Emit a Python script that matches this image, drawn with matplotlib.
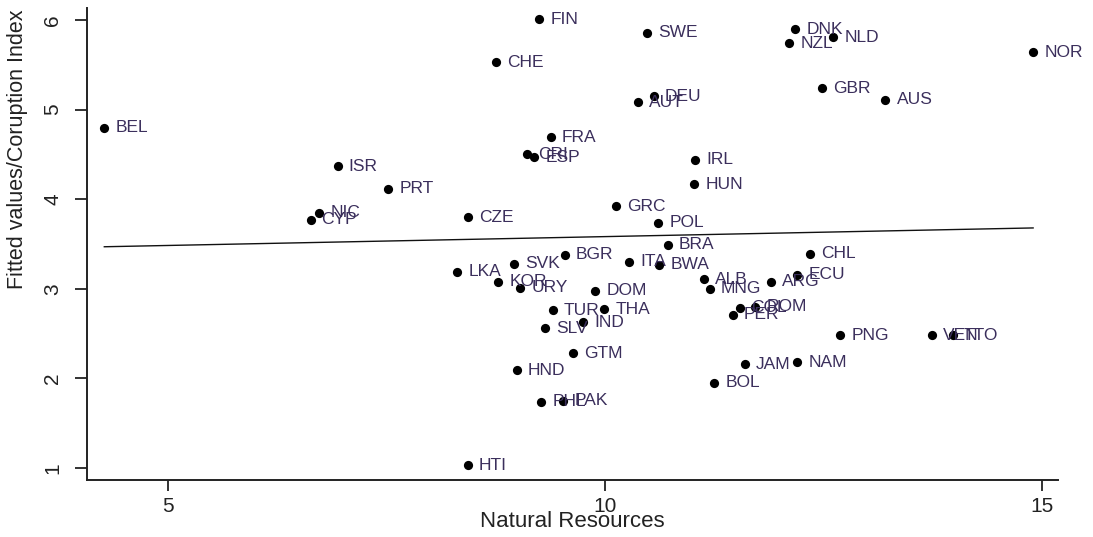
import matplotlib
matplotlib.use('Agg')
import matplotlib.pyplot as plt

plt.rcParams['font.family'] = ['Liberation Sans', 'DejaVu Sans']

# country codes, natural resources index, corruption index
codes = ['BEL', 'ISR', 'PRT', 'NIC', 'CYP', 'FIN', 'SWE', 'CHE', 'DEU', 'AUT',
         'FRA', 'CRI', 'ESP', 'IRL', 'HUN', 'GRC', 'CZE', 'POL', 'BRA', 'BGR',
         'SVK', 'ITA', 'BWA', 'LKA', 'DNK', 'NZL', 'NLD', 'NOR', 'GBR', 'AUS',
         'CHL', 'KOR', 'URY', 'DOM', 'TUR', 'THA', 'IND', 'SLV', 'GTM', 'HND',
         'PHL', 'PAK', 'ALB', 'MNG', 'ARG', 'ECU', 'COL', 'ROM', 'PER', 'PNG',
         'VEN', 'TTO', 'JAM', 'NAM', 'BOL', 'HTI']
nat_res = [4.27, 6.94, 7.52, 6.73, 6.63, 9.25, 10.48, 8.75, 10.56, 10.38,
           9.38, 9.11, 9.19, 11.03, 11.02, 10.13, 8.43, 10.61, 10.72, 9.54,
           8.96, 10.28, 10.62, 8.31, 12.18, 12.11, 12.61, 14.90, 12.48, 13.21,
           12.35, 8.78, 9.03, 9.89, 9.40, 9.99, 9.75, 9.31, 9.63, 8.99,
           9.27, 9.52, 11.13, 11.20, 11.90, 12.20, 11.55, 11.72, 11.46, 12.69,
           13.74, 13.98, 11.60, 12.20, 11.25, 8.43]
corruption = [4.80, 4.37, 4.12, 3.85, 3.77, 6.01, 5.86, 5.53, 5.15, 5.08,
              4.69, 4.50, 4.47, 4.44, 4.17, 3.92, 3.80, 3.74, 3.49, 3.38,
              3.28, 3.30, 3.27, 3.19, 5.90, 5.74, 5.81, 5.64, 5.24, 5.11,
              3.39, 3.08, 3.01, 2.98, 2.76, 2.77, 2.63, 2.56, 2.28, 2.09,
              1.74, 1.75, 3.11, 3.00, 3.08, 3.16, 2.79, 2.80, 2.71, 2.48,
              2.48, 2.48, 2.16, 2.18, 1.95, 1.03]

# fitted values at the ends of the data range
fit_x = [4.27, 14.90]
fit_y = [3.47, 3.68]

xticks = [5, 10, 15]
yticks = [1, 2, 3, 4, 5, 6]

fig = plt.figure(figsize=(10.93, 5.37), dpi=100)
ax = fig.add_axes([0.0796, 0.106, 0.888, 0.879])

ax.scatter(nat_res, corruption, s=44, c='black', zorder=3, linewidths=0)
for code, x, y in zip(codes, nat_res, corruption):
    ax.annotate(code, xy=(x, y), xytext=(8, 0), textcoords='offset points',
                va='center', ha='left', fontsize=12.5, color='#3b2f5c', zorder=4)

ax.plot(fit_x, fit_y, c='#111111', linewidth=1.0, zorder=2)

ax.set_xlim(4.072, 15.18)
ax.set_ylim(0.866, 6.134)
ax.set_xticks(xticks)
ax.set_yticks(yticks)
ax.tick_params(axis='x', length=8, width=1.3, pad=4, labelsize=15, colors='#222222')
ax.tick_params(axis='y', length=9, width=1.3, pad=9, labelsize=15, colors='#222222')
for lab in ax.get_yticklabels():
    lab.set_rotation(90)
    lab.set_va('center')

for side in ['top', 'right']:
    ax.spines[side].set_visible(False)
for side in ['left', 'bottom']:
    ax.spines[side].set_linewidth(1.4)
    ax.spines[side].set_color('#222222')

ax.set_xlabel('Natural Resources', fontsize=16, color='#222222', va='top')
ax.xaxis.set_label_coords(0.5, -0.066)
ax.set_ylabel('Fitted values/Coruption Index', fontsize=15.5, color='#222222')
ax.yaxis.set_label_coords(-0.061, 0.70)

plt.savefig('out.png', dpi=100)
